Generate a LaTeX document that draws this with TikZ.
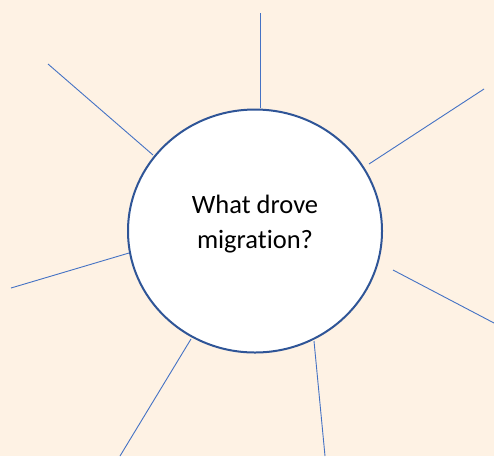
\documentclass[tikz,border=0pt]{standalone}
\usepackage{fontspec}
\setmainfont{Carlito}[Ligatures=NoCommon]
\usetikzlibrary{shapes.geometric}
\definecolor{cream}{HTML}{FEF2E4}
\definecolor{rimblue}{HTML}{2F5597}
\definecolor{spokeblue}{HTML}{4472C4}
\begin{document}
\begin{tikzpicture}[x=1pt,y=-1pt,
  hub/.style={ellipse,draw=rimblue,line width=2pt,fill=white,
    minimum width=254pt,minimum height=243pt,inner sep=0pt},
  caption/.style={align=center,font=\fontsize{26.5}{35}\selectfont},
  spoke/.style={draw=spokeblue,line width=0.9pt}]
  % background
  \fill[cream] (0,0) rectangle (494,456);
  \useasboundingbox (0,0) rectangle (494,456);

  % spokes: inner and outer ends
  \coordinate (a1) at (260,108); \coordinate (b1) at (260,13);
  \coordinate (a2) at (153,155); \coordinate (b2) at (48,64);
  \coordinate (a3) at (369,164); \coordinate (b3) at (484,89);
  \coordinate (a4) at (129,253); \coordinate (b4) at (11,288);
  \coordinate (a5) at (393,270); \coordinate (b5) at (494,323);
  \coordinate (a6) at (191,339); \coordinate (b6) at (120,456);
  \coordinate (a7) at (314,341); \coordinate (b7) at (325,456);
  \foreach \k in {1,...,7}{
    \draw[spoke] (a\k) -- (b\k);
  }

  % centre circle
  \node[hub] (q) at (255,231) {};
  \node[caption] (qtext) at (255,224) {What drove\\migration?};
\end{tikzpicture}
\end{document}
